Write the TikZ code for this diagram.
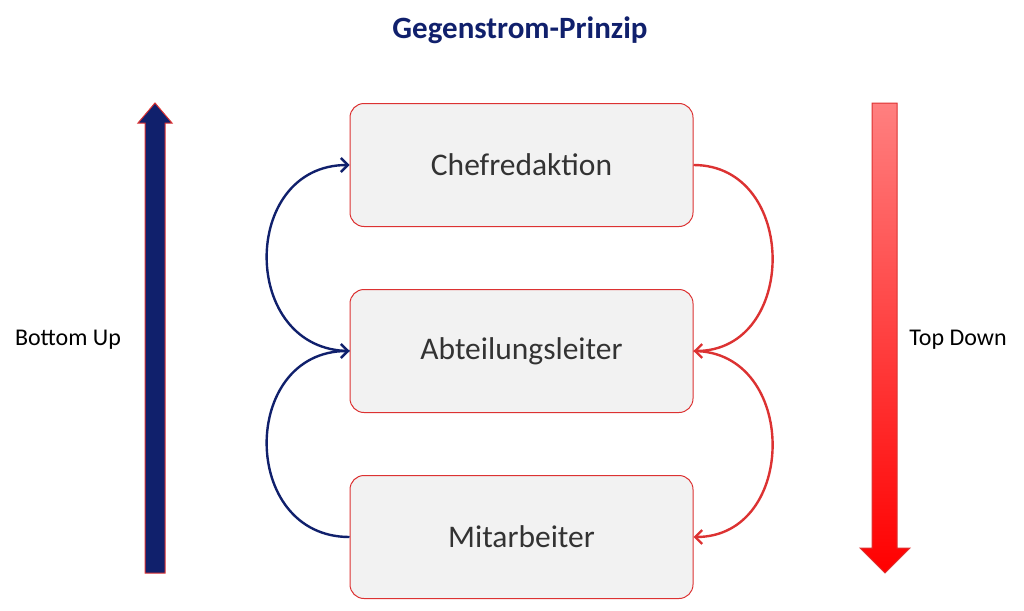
\documentclass[tikz,border=0pt]{standalone}
\usepackage{fontspec}
\setmainfont{Carlito}
\usetikzlibrary{arrows.meta}
\definecolor{navy}{RGB}{16,32,108}
\definecolor{boxred}{RGB}{220,50,50}
\definecolor{boxfill}{RGB}{242,242,242}
\tikzset{
  level/.style={draw=boxred, fill=boxfill, rounded corners=14pt, minimum width=343pt,
                minimum height=123pt, line width=1pt, font=\fontsize{31.5}{36}\selectfont, text=black!80},
  up/.style={draw=navy, line width=2.4pt, -{Straight Barb[length=7pt,width=14pt]}},
  down/.style={draw=boxred, line width=2.4pt, -{Straight Barb[length=7pt,width=14pt]}}
}
\begin{document}
\begin{tikzpicture}[x=1pt, y=-1pt]
  \useasboundingbox (0,0) rectangle (1024,610);
  % title
  \node (title) at (520,30) {\fontsize{31}{36}\selectfont\bfseries\color{navy}Gegenstrom-Prinzip};
  % levels
  \node[level] (chef) at (521.5,165) {Chefredaktion};
  \node[level] (abt) at (521.5,351) {Abteilungsleiter};
  \node[level] (mit) at (521.5,537) {Mitarbeiter};
  % bottom up
  \draw[up] (abt.west) .. controls +(-110,0) and +(-110,0) .. (chef.west);
  \draw[up] (mit.west) .. controls +(-110,0) and +(-110,0) .. (abt.west);
  % top down
  \draw[down] (chef.east) .. controls +(105,0) and +(105,0) .. (abt.east);
  \draw[down] (abt.east) .. controls +(105,0) and +(105,0) .. (mit.east);
  % big arrows
  \fill[navy, draw=boxred, line width=1pt] (145,573) -- (165,573) -- (165,123) -- (172,123)
     -- (155,103) -- (138,123) -- (145,123) -- cycle;
  \shade[top color=red!50, bottom color=red, draw=boxred, line width=1pt]
     (872,103) -- (897,103) -- (897,548) -- (910,548) -- (885,573) -- (860,548) -- (872,548) -- cycle;
  \node (bu) at (68,340) {\fontsize{24}{28}\selectfont Bottom Up};
  \node (td) at (958,340) {\fontsize{24}{28}\selectfont Top Down};
\end{tikzpicture}
\end{document}
